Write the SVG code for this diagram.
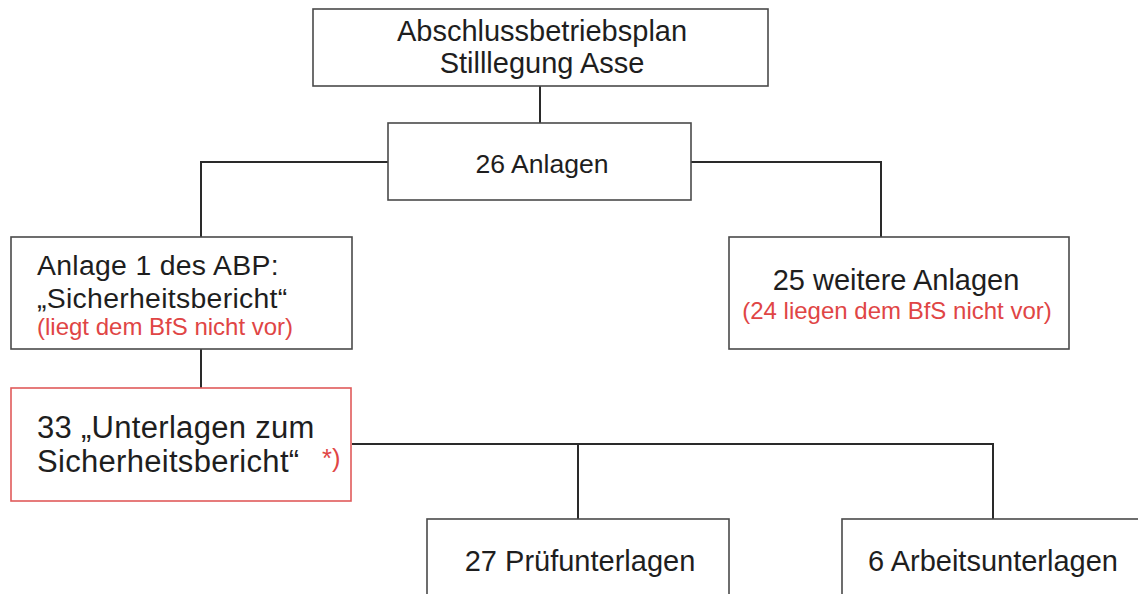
<svg xmlns="http://www.w3.org/2000/svg" width="1138" height="594" viewBox="0 0 1138 594">
<style>
.box{fill:#fff;stroke:#4a4a4a;stroke-width:1.6}
.rbox{fill:#fff;stroke:#e05a5a;stroke-width:1.6}
.t{font-family:"Liberation Sans",Arial,sans-serif;fill:#1e1e1e}
.r{font-family:"Liberation Sans",Arial,sans-serif;fill:#e04545}
.c{text-anchor:middle}
.ln{fill:none;stroke:#2a2a2a;stroke-width:2}
</style>
<rect width="1138" height="594" fill="#fff"/>
<g id="connectors">
<path class="ln" d="M540 86V123"/>
<path class="ln" d="M388 162H201V237"/>
<path class="ln" d="M691 162H881V237"/>
<path class="ln" d="M201 349V388"/>
<path class="ln" d="M352 444H993V519"/>
<path class="ln" d="M578 444V519"/>
</g>
<g id="n-abp">
<rect class="box" x="313" y="9" width="455" height="77"/>
<text class="t c" x="542" y="41" font-size="29">Abschlussbetriebsplan</text>
<text class="t c" x="542" y="73" font-size="29">Stilllegung Asse</text>
</g>
<g id="n-26">
<rect class="box" x="388" y="123" width="303" height="77"/>
<text class="t c" x="542" y="173" font-size="26.6">26 Anlagen</text>
</g>
<g id="n-anlage1">
<rect class="box" x="11" y="237" width="341" height="112"/>
<text class="t" x="37" y="275" font-size="28.4" letter-spacing="0.3">Anlage 1 des ABP:</text>
<text class="t" x="37" y="308" font-size="28.4" letter-spacing="0.3">„Sicherheitsbericht“</text>
<text class="r" x="37" y="335" font-size="24">(liegt dem BfS nicht vor)</text>
</g>
<g id="n-25">
<rect class="box" x="729" y="237" width="340" height="112"/>
<text class="t c" x="896" y="290" font-size="29">25 weitere Anlagen</text>
<text class="r c" x="897" y="319" font-size="24">(24 liegen dem BfS nicht vor)</text>
</g>
<g id="n-33">
<rect class="rbox" x="11" y="388" width="340" height="113"/>
<text class="t" x="37" y="438" font-size="31" letter-spacing="0.3">33 „Unterlagen zum</text>
<text class="t" x="37" y="472" font-size="31" letter-spacing="0.3">Sicherheitsbericht“</text>
<text class="r" x="322" y="467" font-size="25.5">*)</text>
</g>
<g id="n-27">
<rect class="box" x="427" y="519" width="302" height="90"/>
<text class="t c" x="580" y="571" font-size="29">27 Prüfunterlagen</text>
</g>
<g id="n-6">
<rect class="box" x="842" y="519" width="310" height="90"/>
<text class="t c" x="993" y="571" font-size="29">6 Arbeitsunterlagen</text>
</g>
</svg>
